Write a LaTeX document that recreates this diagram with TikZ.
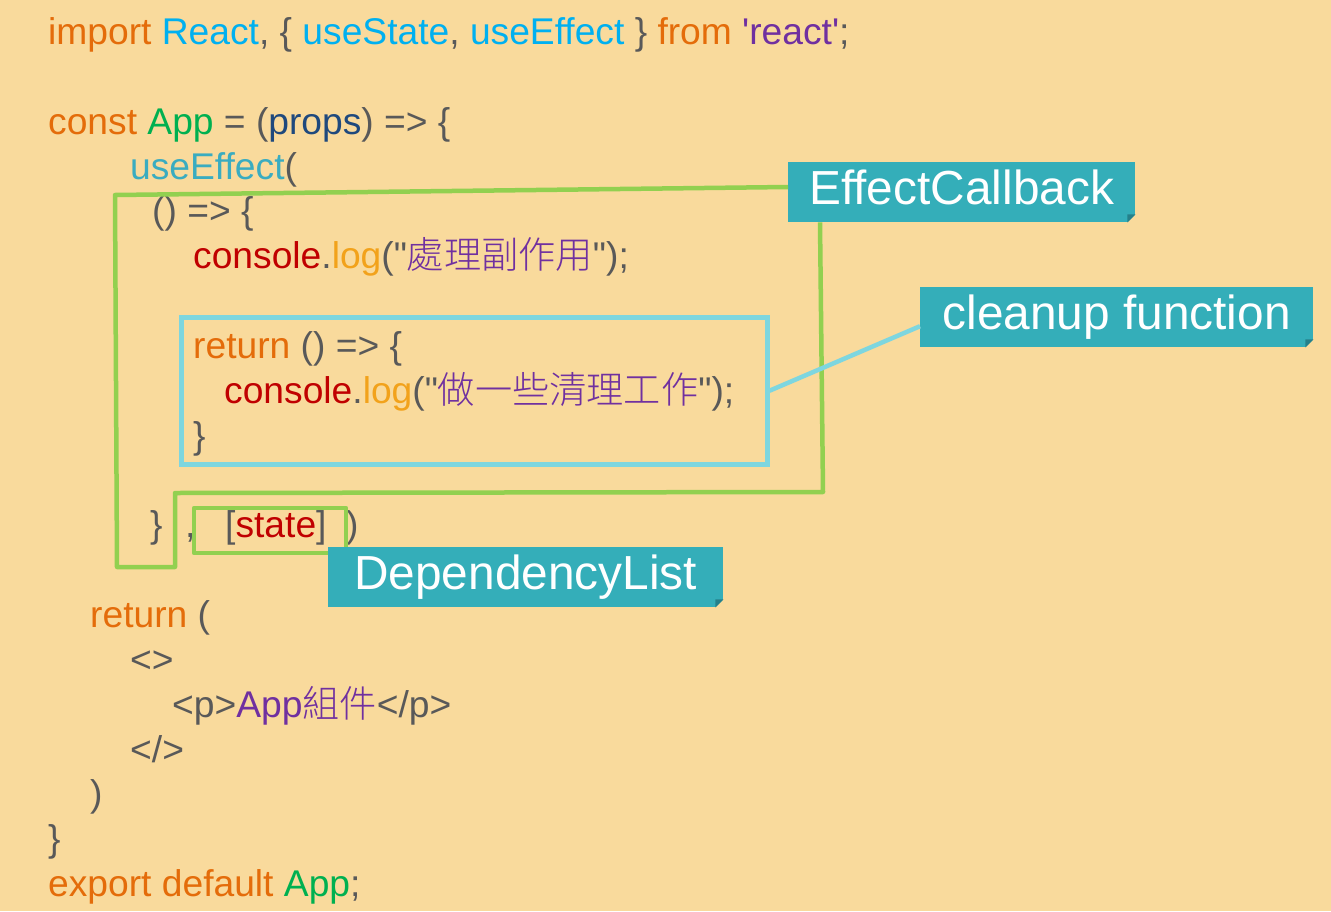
\documentclass[tikz,border=0pt]{standalone}
\usepackage{fontspec}
\setmainfont{Liberation Sans}
\newfontfamily\cjk{Noto Sans CJK TC}[UprightFont={* Light}]
\usetikzlibrary{calc}

\definecolor{bgpeach}{HTML}{F9DA9C}
\definecolor{kw}{HTML}{E46C0A}
\definecolor{lib}{HTML}{00B0F0}
\definecolor{str}{HTML}{7030A0}
\definecolor{pun}{HTML}{595959}
\definecolor{app}{HTML}{00B050}
\definecolor{prp}{HTML}{1F497D}
\definecolor{hook}{HTML}{3AACC0}
\definecolor{con}{HTML}{C00000}
\definecolor{logc}{HTML}{F2A21B}
\definecolor{boxgreen}{HTML}{92D050}
\definecolor{boxcyan}{HTML}{7ED6DF}
\definecolor{tagteal}{HTML}{34AEB9}
\definecolor{tagdark}{HTML}{25808A}

\newcommand{\tagfold}[1]{
	\fill[bgpeach] ($(#1.south east)+(-8,0)$) -- (#1.south east) -- ($(#1.south east)+(0,-8)$) -- cycle;
	\fill[tagdark] ($(#1.south east)+(-8,0)$) -- ($(#1.south east)+(0,-8)$) -- ($(#1.south east)+(-8,-8)$) -- cycle;
}
\newcommand{\dq}{\textquotedbl{}}

\begin{document}
\begin{tikzpicture}[x=1pt,y=-1pt]
	
		\tikzset{
		  code/.style={
			inner sep=0pt,
			anchor=base west,
			color=pun,
			font=\fontsize{37.2}{45}\selectfont,
		  },
		  tag/.style={
			fill=tagteal,
			text=white,
			anchor=north west,
			inner xsep=10pt,
			inner ysep=8pt,
			text height=34pt,
			text depth=10pt,
			font=\fontsize{47.8}{56}\selectfont,
		  },
		  grn/.style={draw=boxgreen,line width=4.5pt,line join=round},
		  cyn/.style={draw=boxcyan,line width=4.5pt},
		}
		\useasboundingbox (0,0) rectangle (1331,911);
		\fill[bgpeach] (0,0) rectangle (1331,911);
		
		\node[code] (ln1) at (48,44.5) {\textcolor{kw}{import} \textcolor{lib}{React}, \{ \textcolor{lib}{useState}, \textcolor{lib}{useEffect} \} \textcolor{kw}{from} \textcolor{str}{\textquotesingle{}react\textquotesingle{}};};
		\node[code] (ln3) at (48,134.2) {\textcolor{kw}{const} \textcolor{app}{App} = (\textcolor{prp}{props}) => \{};
		\node[code] (ln4) at (130,179) {\textcolor{hook}{useEffect}(};
		\node[code] (ln5) at (152,223.9) {() => \{};
		\node[code] (ln6) at (193,268.7) {\textcolor{con}{console}.\textcolor{logc}{log}(\dq\textcolor{str}{\cjk 處理副作用}\dq);};
		\node[code] (ln7) at (193,358.4) {\textcolor{kw}{return} () => \{};
		\node[code] (ln8) at (224,403.2) {\textcolor{con}{console}.\textcolor{logc}{log}(\dq\textcolor{str}{\cjk 做一些清理工作}\dq);};
		\node[code] (ln9) at (193,448.1) {\}};
		\node[code] (ln11a) at (150,537.7) {\}};
		\node[code] (ln11b) at (185,537.7) {,};
		\node[code] (state) at (225,537.7) {[\textcolor{con}{state}]};
		\node[code] (ln11c) at (346,537.7) {)};
		\node[code] (ln13) at (90,627.4) {\textcolor{kw}{return} (};
		\node[code] (ln14) at (130,672.3) {<>};
		\node[code] (ln15) at (172,717.1) {<p>\textcolor{str}{App{\cjk 組件}}</p>};
		\node[code] (ln16) at (130,762) {</>};
		\node[code] (ln17) at (90,806.8) {)};
		\node[code] (ln18) at (48,851.6) {\}};
		\node[code] (ln19) at (48,896.5) {\textcolor{kw}{export default} \textcolor{app}{App};};
		
		\node[cyn,inner sep=0pt,minimum width=586pt,minimum height=147pt,anchor=north west] (clean) at (179,315) {};
		\node[tag,minimum width=347pt] (cb) at (788,162) {EffectCallback};
		\node[tag,minimum width=393pt] (cu) at (920,287) {cleanup function};
		
		\draw[grn] ($(cb.north west)+(0,25)$) -- (115,195) -- (117,567) -- (175,567) -- (175,493) -- (823,492) -- ($(cb.south west)+(32,0)$);
		\draw[grn] (194,508) rectangle (346,553);
		\draw[cyn] (clean.east) -- ($(cu.west)+(0,9)$);
		
		\node[tag,minimum width=395pt] (dl) at (328,547) {DependencyList};
		\tagfold{cb}
		\tagfold{cu}
		\tagfold{dl}
	
	\end{tikzpicture}
\end{document}
